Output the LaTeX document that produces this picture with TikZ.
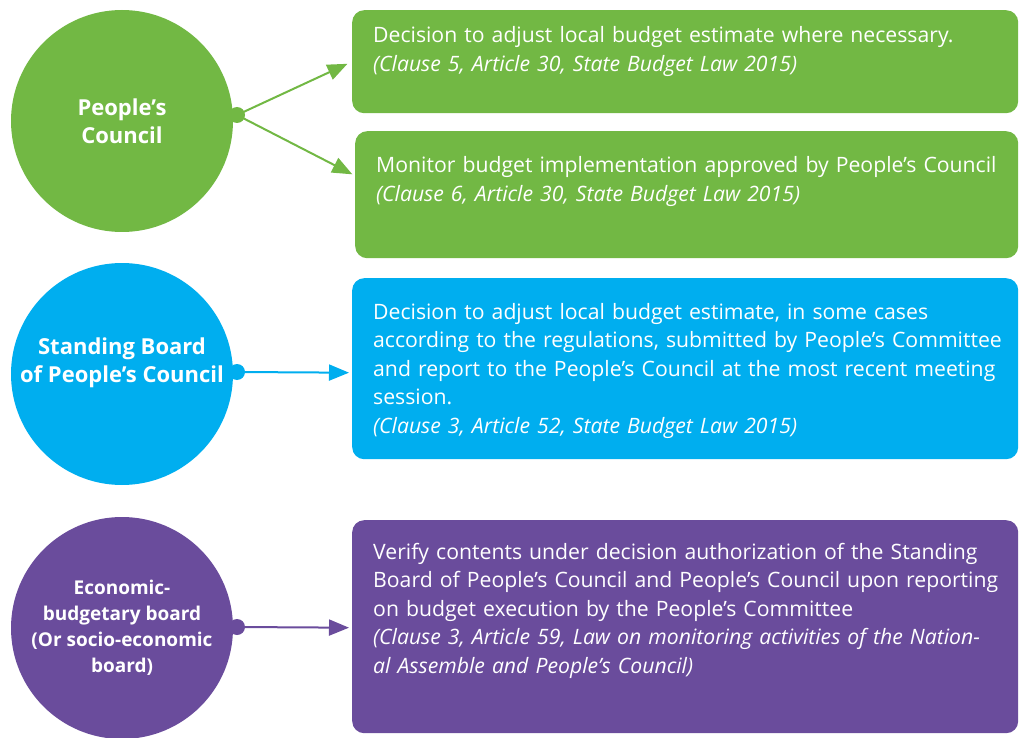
\documentclass[tikz,border=0pt]{standalone}
\usepackage{fontspec}
\setmainfont{Open Sans}
\usetikzlibrary{arrows.meta,positioning}
\definecolor{leafgreen}{HTML}{72B844}
\definecolor{skyblue}{HTML}{00AEEF}
\definecolor{plum}{HTML}{6A4C9C}
\tikzset{
    %Define standard arrow tip
    >={Triangle[length=20pt,width=16pt]},
    %Define style for round bodies
    body/.style={
           circle,
           minimum size=222pt,
           inner sep=0pt,
           text=white,
           align=center,
           font=\bfseries\fontsize{22}{28}\selectfont},
    %Define style for the knob on each body
    knob/.style={
           circle,
           minimum size=16pt,
           inner sep=0pt},
    %Define style for boxes
    panel/.style={
           rectangle,
           rounded corners=12pt,
           anchor=north west,
           inner sep=0pt,
           minimum width=666pt},
    %Define style for box texts
    duty/.style={
           anchor=base west,
           text=white,
           text width=645pt,
           align=left,
           inner sep=0pt,
           font=\fontsize{21.2}{28.5}\selectfont},
    % Define arrow style
    pil/.style={
           ->,
           line width=2pt,
           shorten >=3pt}
}

\begin{document}
\begin{tikzpicture}[x=1pt, y=-1pt]
  \useasboundingbox (0,0) rectangle (1020,738);
  % round bodies
  \node[body, fill=leafgreen] (council) at (122,121) {People’s\\Council};
  \node[body, fill=skyblue] (standing) at (122,374) {Standing Board\\of People’s Council\\\mbox{}};
  \node[body, fill=plum, font=\bfseries\fontsize{19}{26}\selectfont] (econ) at (122,628)
    {Economic-\\budgetary board\\(Or socio-economic\\board)};
  \node[knob, fill=leafgreen] (councilknob) at (237,115) {};
  \node[knob, fill=skyblue] (standingknob) at (237,372) {};
  \node[knob, fill=plum] (econknob) at (237,627) {};
  % boxes
  \node[panel, fill=leafgreen, minimum height=103pt] (adjust) at (352,10) {};
  \node[panel, fill=leafgreen, minimum height=127pt, minimum width=663pt] (monitor) at (355,131) {};
  \node[panel, fill=skyblue, minimum height=181pt] (session) at (352,278) {};
  \node[panel, fill=plum, minimum height=213pt] (verify) at (352,520) {};
  \node[duty] (adjusttext) at (373,43)
    {Decision to adjust local budget estimate where necessary.\\
     \textit{(Clause 5, Article 30, State Budget Law 2015)}};
  \node[duty] (monitortext) at (376,173)
    {Monitor budget implementation approved by People’s Council\\
     \textit{(Clause 6, Article 30, State Budget Law 2015)}};
  \node[duty] (sessiontext) at (373,319)
    {Decision to adjust local budget estimate, in some cases\\
     according to the regulations, submitted by People’s Committee\\
     and report to the People’s Council at the most recent meeting\\
     session.\\
     \textit{(Clause 3, Article 52, State Budget Law 2015)}};
  \node[duty] (verifytext) at (373,559)
    {Verify contents under decision authorization of the Standing\\
     Board of People’s Council and People’s Council upon reporting\\
     on budget execution by the People’s Committee\\
     \textit{(Clause 3, Article 59, Law on monitoring activities of the Nation-}\\
     \textit{al Assemble and People’s Council)}};
  % arrows
  \draw[pil, leafgreen, shorten >=5pt] (councilknob.center) -- (adjust.west);
  \draw[pil, leafgreen] (councilknob.center) -- ([yshift=19pt]monitor.west);
  \draw[pil, skyblue] (standingknob.center) -- ([yshift=-4pt]session.west);
  \draw[pil, plum] (econknob.center) -- ([yshift=-1pt]verify.west);
\end{tikzpicture}
\end{document}
